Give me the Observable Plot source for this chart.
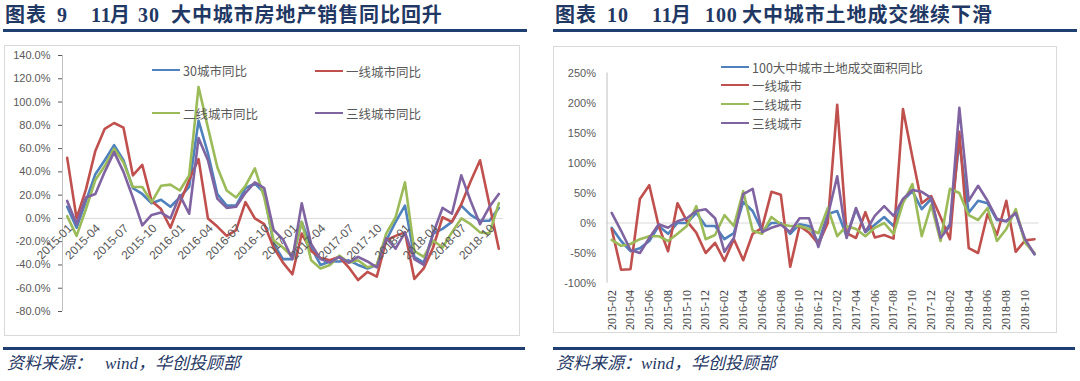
<!DOCTYPE html>
<html><head><meta charset="utf-8">
<script src="https://cdn.jsdelivr.net/npm/d3@7/dist/d3.min.js"></script>
<script src="https://cdn.jsdelivr.net/npm/@observablehq/plot@0.6/dist/plot.umd.min.js"></script>
<style>
body{margin:0;width:1080px;height:381px;background:#fff;position:relative;overflow:hidden;font-family:"Liberation Sans","Noto Sans CJK SC",sans-serif;}
.abs{position:absolute;}
.t{position:absolute;top:4px;font-family:"Liberation Serif","Noto Sans CJK SC",serif;font-weight:700;font-size:20px;color:#1f3864;white-space:pre;letter-spacing:0.9px;line-height:22px;}
.rule{position:absolute;background:#1f3f73;height:3px;}
.box{position:absolute;border:1.5px solid #d9d9d9;box-sizing:border-box;}
.cap{position:absolute;top:354px;font-family:"Liberation Serif","Noto Sans CJK SC",serif;font-style:italic;font-size:17px;color:#1f3864;white-space:pre;line-height:20px;}
.leg{position:absolute;font-family:"Noto Sans CJK SC",sans-serif;font-size:12.5px;color:#595959;white-space:pre;display:flex;align-items:center;height:18px;}
.leg i{display:inline-block;width:28px;height:2.5px;margin-right:3px;}
#left svg,#right svg{max-width:none !important;position:absolute;left:0;top:0;}
</style></head><body>
<div class="t" style="left:5px">图表</div>
<div class="t" style="left:57px">9</div>
<div class="t" style="left:91px">11</div>
<div class="t" style="left:110px">月</div>
<div class="t" style="left:138px">30</div>
<div class="t" style="left:171px">大中城市房地产销售同比回升</div>
<div class="t" style="left:555px">图表</div>
<div class="t" style="left:607px">10</div>
<div class="t" style="left:652px">11</div>
<div class="t" style="left:671px">月</div>
<div class="t" style="left:705px">100</div>
<div class="t" style="left:742px">大中城市土地成交继续下滑</div>
<div class="rule" style="left:3px;top:29px;width:524px"></div>
<div class="rule" style="left:553px;top:29px;width:524px"></div>
<div class="box" style="left:4px;top:45px;width:516px;height:291px"></div>
<div class="box" style="left:553px;top:46px;width:504px;height:287px"></div>
<div class="rule" style="left:3px;top:347px;width:522px"></div>
<div class="rule" style="left:553px;top:347px;width:522px"></div>
<div class="cap" style="left:7px">资料来源：</div>
<div class="cap" style="left:105px">wind，华创投顾部</div>
<div class="cap" style="left:556px">资料来源：wind，华创投顾部</div>
<div id="left" class="abs" style="left:0;top:40px;width:525px;height:300px"></div>
<div id="right" class="abs" style="left:545px;top:40px;width:515px;height:300px"></div>
<div class="leg" style="left:152px;top:61px"><i style="background:#4f81bd"></i>30城市同比</div>
<div class="leg" style="left:315px;top:62px"><i style="background:#c0504d"></i>一线城市同比</div>
<div class="leg" style="left:152px;top:104px"><i style="background:#9bbb59"></i>二线城市同比</div>
<div class="leg" style="left:315px;top:104px"><i style="background:#8064a2"></i>三线城市同比</div>
<div class="leg" style="left:721px;top:58px"><i style="background:#4f81bd"></i>100大中城市土地成交面积同比</div>
<div class="leg" style="left:721px;top:76px"><i style="background:#c0504d"></i>一线城市</div>
<div class="leg" style="left:721px;top:95px"><i style="background:#9bbb59"></i>二线城市</div>
<div class="leg" style="left:721px;top:114px"><i style="background:#8064a2"></i>三线城市</div>
<script>
// ---------- Left chart: 30大中城市房地产销售同比 (%) ----------
const leftMonths = ["2015-01","2015-02","2015-03","2015-04","2015-05","2015-06","2015-07","2015-08","2015-09","2015-10","2015-11","2015-12",
"2016-01","2016-02","2016-03","2016-04","2016-05","2016-06","2016-07","2016-08","2016-09","2016-10","2016-11","2016-12",
"2017-01","2017-02","2017-03","2017-04","2017-05","2017-06","2017-07","2017-08","2017-09","2017-10","2017-11","2017-12",
"2018-01","2018-02","2018-03","2018-04","2018-05","2018-06","2018-07","2018-08","2018-09","2018-10","2018-11"];
const leftXTicks = ["2015-01","2015-04","2015-07","2015-10","2016-01","2016-04","2016-07","2016-10","2017-01","2017-04","2017-07","2017-10","2018-01","2018-04","2018-07","2018-10"];
const leftYTicks = [-80,-60,-40,-20,0,20,40,60,80,100,120,140];
const city30 = [10,-8,15,38,50,63,50,26,21,13,16,10,18,27,84,56,21,11,11,26,30,22,-22,-35,-35,-3,-25,-40,-37,-37,-36,-40,-43,-40,-19,-3,11,-33,-38,-13,-9,-3,11,3,-2,-2,9];
const tier1 = [52,0,25,58,77,82,78,37,46,15,8,-8,13,33,51,0,-7,-15,-10,14,0,-5,-25,-38,-48,-13,-28,-34,-36,-33,-42,-53,-46,-50,-19,-15,-12,-52,-43,-25,1,-3,12,32,50,12,-26];
const tier2 = [2,-15,8,33,45,60,48,27,27,14,28,29,24,37,113,78,44,24,18,28,43,18,-19,-25,-33,-3,-36,-43,-40,-32,-38,-36,-42,-40,-13,1,31,-28,-33,-19,-25,-12,0,-5,-12,-13,13];
const tier3 = [15,-5,18,21,40,57,40,18,-6,3,5,0,20,4,69,50,17,9,10,22,31,26,-10,-18,-35,13,-22,-35,-38,-33,-38,-33,-37,-42,-17,-26,-12,-35,-40,-13,9,4,37,15,-5,10,21];

// ---------- Right chart: 100大中城市土地成交面积同比 (%) ----------
const rightMonths = ["2015-02","2015-03","2015-04","2015-05","2015-06","2015-07","2015-08","2015-09","2015-10","2015-11","2015-12",
"2016-01","2016-02","2016-03","2016-04","2016-05","2016-06","2016-07","2016-08","2016-09","2016-10","2016-11","2016-12",
"2017-01","2017-02","2017-03","2017-04","2017-05","2017-06","2017-07","2017-08","2017-09","2017-10","2017-11","2017-12",
"2018-01","2018-02","2018-03","2018-04","2018-05","2018-06","2018-07","2018-08","2018-09","2018-10","2018-11"];
const rightXTicks = ["2015-02","2015-04","2015-06","2015-08","2015-10","2015-12","2016-02","2016-04","2016-06","2016-08","2016-10","2016-12",
"2017-02","2017-04","2017-06","2017-08","2017-10","2017-12","2018-02","2018-04","2018-06","2018-08","2018-10"];
const rightYTicks = [-100,-50,0,50,100,150,200,250];
const land100 = [-8,-30,-47,-42,-30,-5,-18,0,0,17,-5,-5,-27,-17,35,20,-13,0,0,-18,-2,-5,-33,15,20,-22,23,-15,-3,10,-5,37,53,23,40,-22,-2,135,17,37,33,5,3,17,-30,-52];
const landT1 = [-10,-78,-77,40,63,-5,-47,33,3,-16,-50,-33,-63,-27,-62,-18,-8,52,47,-73,-5,-16,-35,0,197,-17,-25,18,-24,-20,-26,190,110,33,45,10,-27,152,-42,-50,15,-20,37,-48,-29,-27];
const landT2 = [-28,-38,-35,-27,-22,-22,-30,-18,-5,28,-27,-20,13,-5,53,-13,-18,10,-2,-5,-5,-10,-17,25,-22,-5,-10,-22,-8,0,-18,33,65,-22,30,-30,57,50,13,5,25,-30,-10,23,-33,-50];
const landT3 = [17,-13,-45,-50,-25,-2,-8,3,8,20,23,8,-48,-25,48,57,-15,-8,-3,-15,8,8,-40,12,78,-25,25,-15,12,28,12,40,55,52,42,-25,-5,192,37,62,37,7,3,17,-27,-52];

const C = {blue:"#4f81bd", red:"#c0504d", green:"#9bbb59", purple:"#8064a2"};
const SW = 2.6;
function lines(series) {
  return series.map(([vals, color]) => Plot.line(vals.map((v, i) => ({i, v})), {x: "i", y: "v", stroke: color, strokeWidth: SW, strokeLinejoin: "round"}));
}

const leftTickData = leftXTicks.map(t => ({t, i: leftMonths.indexOf(t)}));
const leftPlot = Plot.plot({
  width: 525, height: 300,
  marginLeft: 62, marginRight: 22, marginTop: 15, marginBottom: 29,
  x: {domain: [-0.5, leftMonths.length - 0.5], axis: null},
  y: {domain: [-80, 140], ticks: leftYTicks, tickSize: 4, tickPadding: 8, tickFormat: d => d.toFixed(1) + "%", label: null},
  style: {background: "transparent", overflow: "visible", fontFamily: "Liberation Sans", fontSize: "11px", color: "#595959"},
  marks: [
    Plot.ruleY([0], {stroke: "#d9d9d9", strokeWidth: 1}),
    Plot.ruleX([-0.5], {y1: -80, y2: 140, stroke: "#bfbfbf"}),
    ...lines([[city30, C.blue], [tier1, C.red], [tier2, C.green], [tier3, C.purple]]),
    Plot.text(leftTickData, {x: "i", y: () => 0, text: "t", rotate: -45, textAnchor: "end", dx: 3, dy: 8, fill: "#595959", fontSize: 12})
  ]
});
document.getElementById("left").appendChild(leftPlot);

const rightTickData = rightXTicks.map(t => ({t, i: rightMonths.indexOf(t)}));
const rightPlot = Plot.plot({
  width: 515, height: 300,
  marginLeft: 61.5, marginRight: 21.3, marginTop: 32.5, marginBottom: 57.5,
  x: {domain: [-0.5, rightMonths.length - 0.5], axis: null},
  y: {domain: [-100, 250], ticks: rightYTicks, tickSize: 0, tickPadding: 11, tickFormat: d => d + "%", label: null},
  style: {background: "transparent", overflow: "visible", fontFamily: "Liberation Sans", fontSize: "11px", color: "#595959"},
  marks: [
    Plot.ruleY([0], {stroke: "#d9d9d9", strokeWidth: 1}),
    Plot.ruleX([-0.5], {y1: -100, y2: 250, stroke: "#bfbfbf"}),
    ...lines([[land100, C.blue], [landT1, C.red], [landT2, C.green], [landT3, C.purple]]),
    Plot.text(rightTickData, {x: "i", y: () => -100, text: "t", rotate: -90, textAnchor: "end", dy: 7, fill: "#404040", fontSize: 12, fontFamily: "Liberation Serif"})
  ]
});
document.getElementById("right").appendChild(rightPlot);
</script>
</body></html>
